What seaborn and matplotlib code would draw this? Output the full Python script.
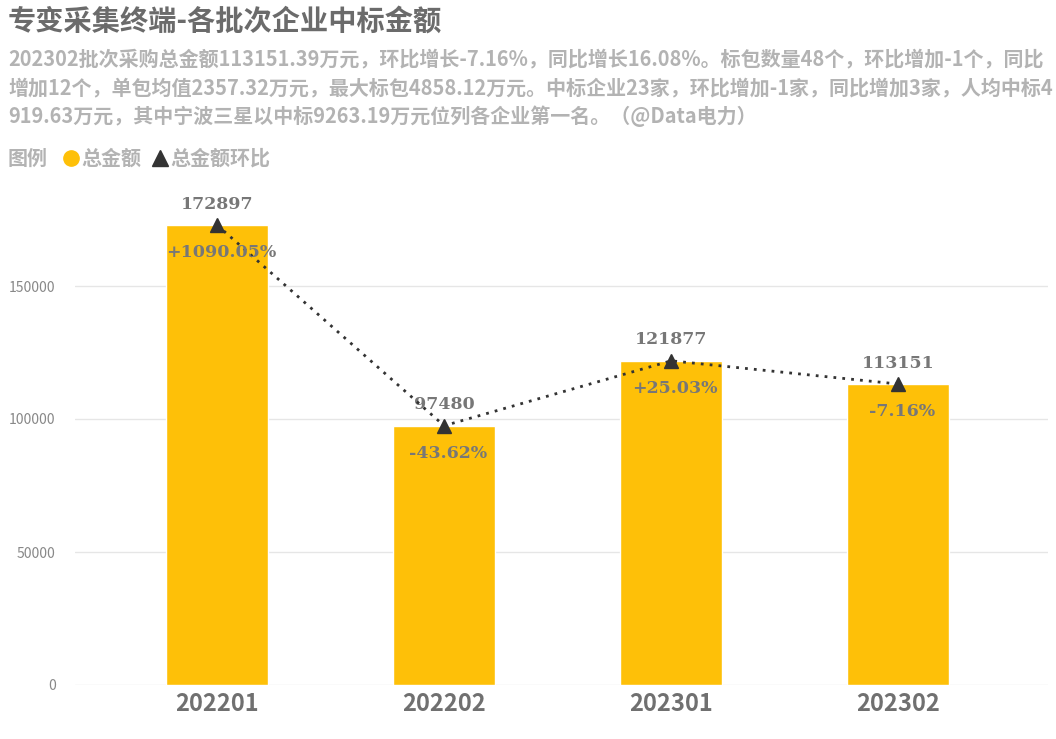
import pandas as pd
import matplotlib
matplotlib.use("Agg")
import matplotlib.pyplot as plt
from matplotlib.lines import Line2D
import seaborn as sns

# chart data
batches = ["202201", "202202", "202301", "202302"]
totals = [172897, 97480, 121877, 113151]
ratios = ["+1090.05%", "-43.62%", "+25.03%", "-7.16%"]
y_ticks = [0, 50000, 100000, 150000]

title = "专变采集终端-各批次企业中标金额"
subtitle_lines = [
    "202302批次采购总金额113151.39万元，环比增长-7.16%，同比增长16.08%。标包数量48个，环比增加-1个，同比",
    "增加12个，单包均值2357.32万元，最大标包4858.12万元。中标企业23家，环比增加-1家，同比增加3家，人均中标4",
    "919.63万元，其中宁波三星以中标9263.19万元位列各企业第一名。（@Data电力）",
]

BAR = "#FEC008"
DARK = "#333333"

sns.set_theme(style="white")
plt.rcParams['font.family'] = ['Noto Sans CJK SC', 'DejaVu Sans']

df = pd.DataFrame({"batch": batches, "total": totals})

fig = plt.figure(figsize=(10.56, 7.39), dpi=100)
ax = fig.add_axes([75 / 1056, 1 - 685 / 739, (1048 - 75) / 1056, (685 - 153) / 739])

sns.barplot(data=df, x="batch", y="total", color=BAR, width=0.45, saturation=1, ax=ax)
ax.plot(range(len(totals)), totals, linestyle=(0, (1, 2.2)), color=DARK, linewidth=2,
        marker="^", markersize=9.5, zorder=5)

for i, (v, r) in enumerate(zip(totals, ratios)):
    ax.annotate(str(v), (i, v), xytext=(0, 9), textcoords="offset points",
                ha="center", va="bottom", fontsize=12.5, fontweight="bold",
                color="#777777", family="DejaVu Serif")
    ax.annotate(r, (i, v), xytext=(3, -20), textcoords="offset points",
                ha="center", va="center", fontsize=12.5, fontweight="bold",
                color="#777777", family="DejaVu Serif", zorder=6)

ax.set_xlim(-0.626, 3.66)
ax.set_ylim(0, 200000)
ax.set_yticks(y_ticks)
ax.set_yticklabels([str(t) for t in y_ticks], fontsize=10, color="#888888")
ax.tick_params(axis="x", labelsize=17, labelcolor="#707070", length=0, pad=5)
ax.tick_params(axis="y", length=0, pad=14)
for lbl in ax.get_xticklabels():
    lbl.set_fontweight("bold")
ax.set_xlabel("")
ax.set_ylabel("")
ax.yaxis.grid(True, color="#e6e6e6", linewidth=1)
ax.set_axisbelow(True)
for s in ax.spines.values():
    s.set_visible(False)

fig.text(8 / 1056, 1 - 22 / 739, title, fontsize=20.3, fontweight="bold",
         color="#6b6b6b", va="center", ha="left")
for k, line in enumerate(subtitle_lines):
    fig.text(8 / 1056, 1 - (59 + k * 28.5) / 739, line, fontsize=14.4, fontweight="bold",
             color="#b3b3b3", va="center", ha="left")

fig.text(8 / 1056, 1 - 158 / 739, "图例", fontsize=14.4, fontweight="bold",
         color="#b3b3b3", va="center", ha="left")
handles = [
    Line2D([], [], marker="o", linestyle="", color=BAR, markersize=11),
    Line2D([], [], marker="^", linestyle="", color=DARK, markersize=11),
]
leg = fig.legend(handles, ["总金额", "总金额环比"], loc="center left",
                 bbox_to_anchor=(46 / 1056, 1 - 158 / 739), ncol=2, frameon=False,
                 handlelength=0.7, handletextpad=0.15, columnspacing=0.6,
                 prop={"size": 14.4, "weight": "bold"})
for t in leg.get_texts():
    t.set_color("#b3b3b3")

fig.savefig("out.png", dpi=100)
